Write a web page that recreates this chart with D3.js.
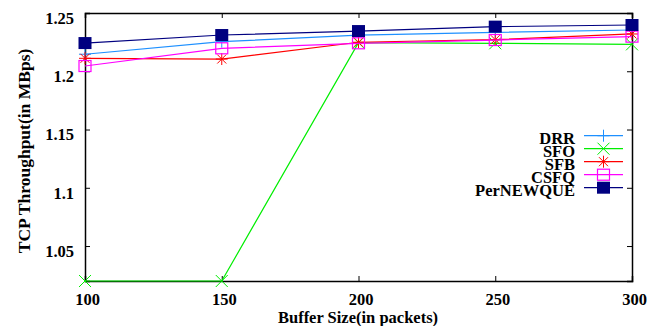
<!DOCTYPE html>
<html><head><meta charset="utf-8">
<script src="https://cdn.jsdelivr.net/npm/d3@7"></script>
<style>body{margin:0;background:#fff}</style>
</head><body><svg id="c" width="662" height="326"></svg>
<script>
const bufferSizes = [100, 150, 200, 250, 300];
const drr = [1.2146, 1.2254, 1.2310, 1.2334, 1.2354];
const sfo = [1.0200, 1.0200, 1.2245, 1.2240, 1.2231];
const sfb = [1.2111, 1.2105, 1.2249, 1.2271, 1.2320];
const csfq = [1.2045, 1.2197, 1.2240, 1.2268, 1.2297];
const pernewque = [1.2242, 1.2311, 1.2345, 1.2383, 1.2397];
const seriesNames = ["DRR", "SFO", "SFB", "CSFQ", "PerNEWQUE"];
const seriesColors = ["#1e90ff", "#00ee00", "#ff0000", "#ff00ff", "#000080"];
const seriesMarkers = ["plus", "cross", "star", "square", "filledSquare"];
const yTicks = [1.05, 1.1, 1.15, 1.2, 1.25];
const yTickLabels = ["1.05", "1.1", "1.15", "1.2", "1.25"];
const xTicks = [100, 150, 200, 250, 300];

const allSeries = [drr, sfo, sfb, csfq, pernewque];
const svg = d3.select("#c");
const L = 85, R = 632, T = 13, B = 281;
const x = d3.scaleLinear().domain([100, 300]).range([L, R]);
const y = d3.scaleLinear().domain([1.02, 1.25]).range([B, T]);

function styleText(sel, size) {
  sel.style("font-family", '"Liberation Serif"').style("font-weight", "bold")
     .style("font-size", size + "px").attr("fill", "#000");
}

function marker(g, type, cx, cy, color) {
  const s = 6;
  if (type === "plus" || type === "star") {
    g.append("line").attr("x1", cx - s).attr("x2", cx + s).attr("y1", cy).attr("y2", cy).attr("stroke", color);
    g.append("line").attr("x1", cx).attr("x2", cx).attr("y1", cy - s).attr("y2", cy + s).attr("stroke", color);
  }
  if (type === "cross" || type === "star") {
    const c = type === "star" ? 4.5 : 6;
    g.append("line").attr("x1", cx - c).attr("x2", cx + c).attr("y1", cy - c).attr("y2", cy + c).attr("stroke", color);
    g.append("line").attr("x1", cx - c).attr("x2", cx + c).attr("y1", cy + c).attr("y2", cy - c).attr("stroke", color);
  }
  if (type === "square") {
    g.append("rect").attr("x", cx - 6).attr("y", cy - 5.5).attr("width", 12).attr("height", 11).attr("fill", "none").attr("stroke", color).attr("stroke-width", 1.2);
  }
  if (type === "filledSquare") {
    g.append("rect").attr("x", cx - 6.5).attr("y", cy - 6).attr("width", 13).attr("height", 12).attr("fill", color);
  }
}

const xAxisB = d3.axisBottom(x).tickValues(xTicks).tickSize(-5).tickPadding(12).tickFormat(d3.format("d"));
const xAxisT = d3.axisTop(x).tickValues(xTicks).tickSize(-5).tickFormat("");
const yAxisL = d3.axisLeft(y).tickValues(yTicks).tickSize(-5).tickPadding(11).tickFormat((d, i) => yTickLabels[i]);
const yAxisR = d3.axisRight(y).tickValues(yTicks).tickSize(-5).tickFormat("");

const gb = svg.append("g").attr("transform", `translate(0,${B})`).call(xAxisB);
const gt = svg.append("g").attr("transform", `translate(0,${T})`).call(xAxisT);
const gl = svg.append("g").attr("transform", `translate(${L},0)`).call(yAxisL);
const gr = svg.append("g").attr("transform", `translate(${R},0)`).call(yAxisR);
[gb, gt, gl, gr].forEach(g => {
  g.select(".domain").attr("stroke", "#000").attr("stroke-width", 1.5);
  g.selectAll(".tick line").attr("stroke", "#000");
  styleText(g.selectAll("text"), 16.5);
});
gb.selectAll(".tick text").attr("dx", "2");
gl.selectAll(".tick text").attr("dy", "0.62em");

allSeries.forEach((vals, si) => {
  const g = svg.append("g");
  const line = d3.line().x((d, i) => x(bufferSizes[i])).y(d => y(d));
  g.append("path").datum(vals).attr("d", line).attr("fill", "none").attr("stroke", seriesColors[si]).attr("stroke-width", 1.2);
  vals.forEach((v, i) => marker(g, seriesMarkers[si], x(bufferSizes[i]), y(v), seriesColors[si]));
});

const lg = svg.append("g");
seriesNames.forEach((n, i) => {
  const ly = 135.7 + i * 13;
  const t = lg.append("text").attr("x", 575).attr("y", ly + 8.5).attr("text-anchor", "end").text(n);
  styleText(t, 16.5);
  lg.append("line").attr("x1", 584).attr("x2", 623).attr("y1", ly).attr("y2", ly).attr("stroke", seriesColors[i]).attr("stroke-width", 1.2);
  marker(lg, seriesMarkers[i], 603.5, ly, seriesColors[i]);
});

const xt = svg.append("text").attr("x", 358).attr("y", 323).attr("text-anchor", "middle").text("Buffer Size(in packets)");
styleText(xt, 16.5);
const yt = svg.append("text").attr("transform", "translate(30,151) rotate(-90)").attr("text-anchor", "middle").text("TCP Throughput(in MBps)");
styleText(yt, 17.5);
</script></body></html>
